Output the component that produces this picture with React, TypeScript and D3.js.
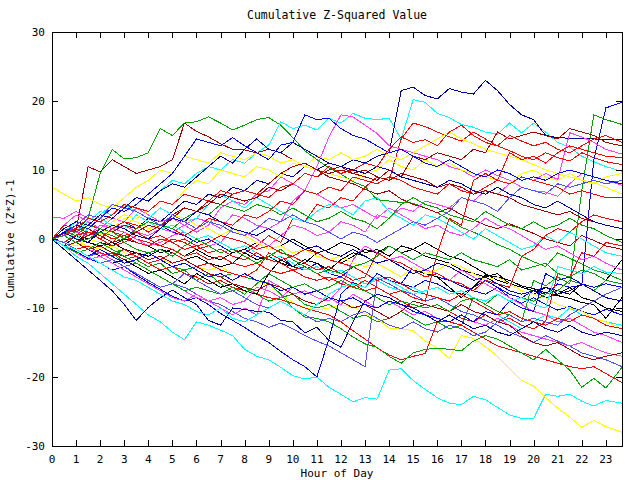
import React from "react";
import * as d3 from "d3";

const title = "Cumulative Z-Squared Value";
const xLabel = "Hour of Day";
const yLabel = "Cumulative (Z*Z)-1";
const xTicks = d3.range(0, 24);
const yTicks = [-30, -20, -10, 0, 10, 20, 30];
const hours = d3.range(48).map((i) => (i === 47 ? 23.67 : i * 0.5));

const RED = "#ff0000", DRED = "#a00000", GREEN = "#00a000", BLUE = "#0000ff", LBLUE = "#5050ff", NAVY = "#0000a0", MAG = "#ff40ff", CYAN = "#00ffff", YEL = "#ffff00", BLK = "#000000";

const s01 = [0,-1,-2.5,-3.5,-5,-6.5,-8,-9.5, -11,-12,-13.5,-14.6,-12,-12.5,-13.2,-14, -16,-17,-17.5,-18.6,-19.8,-20.3,-20,-21.5, -22.5,-23.6,-23,-23.2,-19,-18.8,-20.5,-21.8, -23,-23.8,-24,-22.8,-23.3,-24.4,-25.5,-26, -26,-22.5,-22.8,-22.5,-23.5,-24.2,-23.4,-23.8];
const s02 = [0,0.5,-0.5,-1,-1.5,-1,-2,-2.5, -2,-3,-3.5,-3,-4,-4.5,-4,-5, -5.5,-6,-6.8,-8,-9.2,-10,-10.3,-10, -9.6,-9.8,-10.8,-11.6,-12.9,-13,-13.3,-14.8, -15.8,-17.3,-14,-14.4,-15.6,-17,-18.8,-20.5, -21.3,-23,-24.5,-25.8,-27.3,-26.3,-27.2,-28];
const s03 = [0,0.5,1,3,9.5,13,11.6,11.8, 12.5,16,15,16.8,17,17.7,16.8,15.8, 16.5,17.3,17.6,16.5,14.7,12.8,11.5,10.3, 9.4,8.3,7.6,5.7,5.5,5.3,5.2,4.5, 3.8,2.8,1.7,1,0.2,-0.8,-1.5,-2.5, -3.3,-4,-2,-2.8,-3.6,-4.5,-5,-6];
const s04 = [0,1,2.5,2,3.5,5,4.5,6, 5.5,7,8.5,8,9.5,10.5,10,11.5, 11,12.5,13.6,17,16,16.5,15.8,17.5, 16.8,18.2,17.5,17.3,17.5,14.5,20.2,19.8, 18.2,17.6,16.6,16.2,15.5,15.2,16.8,15.4, 16.8,15.5,14,13.3,12,11.2,10.5,9.8];
const s05 = [0,-1,0.5,-0.5,1.5,1,2,1.5, 3,2.5,4,5.5,5,6.5,6,7.5, 7,8.5,8,9.5,9,10.5,10,11, 10.5,11.5,11,12,12.5,21.5,22,20.8, 20.3,21.8,21.3,21,23,21.5,19.5,18, 17.3,15,14.7,14.6,14.5,14.5,14.4,14.4];
const s06 = [0,0.8,1.3,10.5,9.7,11.5,10.5,9.5, 10,10.5,11.5,16.8,15.6,14.8,13.8,13, 12.9,12.5,13,12.5,11.5,10.5,10,9, 8.5,8,7.2,6.5,7,5.8,5,4.5, 3.8,4.5,3.5,2.8,2,1.5,2.2,1.5, 0.8,0,-0.5,-1,0.5,-0.2,-1,-1.5];
const s07 = [0,0.5,-0.5,1,0.5,-0.5,1,0, -0.5,-1,0,-0.5,-1.5,-1,-2,-1.5, -2,-1,0.5,-0.5,3,2.5,5,4.5, 6,5.5,7.5,9,8.5,14.5,16.8,16.3, 15.5,14.8,14.2,15.5,14.5,13.5,12.8,12, 11.5,12.5,11.8,11.3,12.5,11.8,11.2,10.8];
const s08 = [0,-1,-0.5,-1.5,-2.5,-2,-3.5,-3, -4,-3.5,-5,-4.5,-6,-5,-6.5,-7.5, -7,-8,-9,-8.5,-8,-9.5,-10,-9.5, -10.5,-11.5,-11,-12,-11.5,-10.5,-11.5,-12.5, -12,-13,-12.5,-8.5,-9.5,-10.5,-11,-12, -6,-6.8,-5.5,-6.5,7,18,17.3,16.6];
const s09 = [0,1,0.5,2,1.5,3,2.5,1.5, 2.5,2,1,0.5,-0.5,0,-1,-2, -1.5,-2.5,-3,-2.5,-4,-4.5,-3.5,-5, -5.5,-4,-5,-6,-5.5,-6.5,-7,-6, -6.5,-7.5,-8,-7,-6,-7,-8,-8.5, -7.5,-8,-6.5,-7,-6.7,11.5,19,19.8];
const s10 = [0,-1,-1.8,-2.8,-3.5,-4.5,-4,-5.2, -6.3,-7.3,-8.3,-9,-8.5,-9.5,-10.8,-11.8, -12.8,-14,-15,-16.3,-17.5,-18.5,-20,-14.5, -8,-6.3,-7,-5,-6,-6.5,-4,-5, -5.5,-6,-6.8,-7.5,-8,-7,-8.5,-9.3, -8.5,-9.5,-10.3,-9.8,-10.5,-11,-10.2,-11];
const s11 = [0,-0.5,-1.5,-2.5,-2,-3,-4,-3.5, -4.5,-5.5,-6.5,-7,-8,-9,-9.5,-10.5, -11.5,-12,-12.8,-12.2,-13,-14,-14.8,-15.5, -16.5,-17.5,-18.5,-5.7,-6.5,-7.5,-8,-9, -8.5,-9.5,-10.5,-11,-11.8,-12.5,-13.5,-14.2, -15,-14,-14.8,-15.5,-16.5,-17,-17.5,-18.5];
const s12 = [0,0.5,-0.5,-1.5,-1,-2,-3,-2.5, -3.5,-4.5,-4,-5,-5.5,-6.5,-6,-7, -7.5,-8,-8.5,-8.8,-9.3,-10,-10.5,-11, -12,-13.3,-14.5,-15.8,-16.8,-17.5,-17,-16.6, -12,-12,-12.5,-13.5,-14.5,-15.5,-16,-16.5, -17,-17.5,-18,-18.5,-18.8,-18.5,-19.5,-20.8];
const s13 = [0,-1,-0.5,-1.5,-2.5,-2,-1.5,-2.5, -3.5,-3,-4,-4.5,-4,-5,-5.5,-5, -5.5,-6,-6.4,-8,-10,-11.3,-11.5,-12, -13,-14.2,-15.2,-15.7,-17,-18,-16.5,-16, -15.8,-16,-16.2,-14.8,-14,-14.5,-15.5,-16.5, -17.5,-16,-17.5,-19,-21.5,-20.2,-21.6,-18.6];
const s14 = [0,-0.5,0.5,-0.5,-1,-0.5,-1.5,-2, -2.5,-1.5,-2,-3,-2.5,-3.5,-4,-3.5, -2,-3,-2.5,-3.5,-4,-3,-3.5,-4.5, -3,-2,-2.5,-3.5,-3,-3.5,-4.5,-5, -5.5,-7,-8.5,-7,-5.2,-5.5,-6,-6.8, -7.2,-7.8,-8.2,-8.6,-9.2,-9.5,-11.5,-8.5];
const s15 = [0,1,0.5,0,-0.5,-1,0,-0.5, -1,-2,-1.5,-2.5,-1.5,-2.5,-3,-2, -1.5,-0.5,-1.5,-1,0,-1,-2,-1.5, -0.5,-1,-2,-1.5,-2.5,-1,-1.5,-2.5, -3,-3.5,-4.5,-5,-5.5,-5,-6.5,-7, -7.5,-8.5,-8,-7,-8.5,-9,-10,-10.5];
const s16 = [0,-1,-2,-1.5,-2.5,-3.5,-3,-4, -5,-4.5,-5.5,-6.5,-5,-6,-7,-6.5, -7.5,-8,-5,-3,-4,-3.5,-2,-3, -3.5,-2.5,-1.5,-2,-1,-2,-1.5,-0.5, -1.5,-2.5,-3,-4,-5,-6,-6.5,-7.5, -8,-7,-7.5,-8,-6.5,-7.5,-6,-3];
const s17 = [0,0.5,-0.5,-1.5,-2,-3,-4,-5, -6,-7,-6.5,-7.5,-8.5,-9,-8.5,-9.5, -9,-7,-7.5,-8.5,-7,-8,-7.5,-8.5, -9.5,-8,-9,-10,-9,-10,-11,-10.5, -11.5,-12,-11,-12,-12.5,-11.5,-12.5,-13.5, -14,-14.5,-15,-15.5,-15,-15.8,-16.5,-17];
const s18 = [3.2,3,4,3,2.5,1.5,2,1, 0.5,1.5,1,2,3,2.5,1.5,3.5, 3,2,1.5,2.5,5.5,7,10.5,14.8, 18,17.7,16.5,15.3,13.5,13,12.5,12, 11.5,10.5,10,9,10,9.2,8.5,7.5, 7,6.8,6.2,8,9.5,9,8.5,7.8];
const s19 = [0,1.5,1,0.5,2,1.5,1,0, -1,-0.5,0.5,1,0,-1,-0.5,1.5, 1,0,-1,0.5,2,1.5,0.5,1, 2.5,2,1,3.5,3,4.5,4,5.5, 5,4.5,6,5.5,7,6.5,8,9, 8.5,9.5,8.6,15.4,14.8,14,13,12.3];
const s20 = [0,-1,-2,-3,-2.5,-3.5,-4.5,-5.5, -6.5,-7.5,-8.5,-9,-8,-9,-10,-11, -10,-11,-6,-7,-8,-7.5,-8.5,-9, -7,-3,-1,-2,-3,-2.5,-3.5,-4.5, -5,-6,-4.5,-5.5,-6.5,-7.5,-8.5,-9.5, -10.5,-11,-12,-11.5,-12.5,-13.5,-14,-15];
const s21 = [0,2,3.5,2.5,1.5,3,2.5,4.5, 3.5,2.5,3,2,1,2,4.5,5.5, 5,6.5,7,9,8,7,6.5,5.5, 4.5,5,4,3,4.5,3.5,2.5,1.5, 2,1,0.5,1.5,3,2,1.5,0.5, -0.5,-1.5,-1,-2,-3,-2.5,-3.5,-4.5];
const s22 = [0,1,0,1.5,3,2,1.5,3.5, 2.5,1.5,2,1,0,0.5,-0.5,-1.5, -1,-2,-3,-2.5,-3.5,-4.5,-4,-5, -4.5,-5.5,-6.5,-6,-7,-7.5,-7,-8, -8.5,-9,-8,-9,-10,-11,-12,-13, -12,-11,-11.5,-10,-11,-11.5,-12,-12.5];
const s23 = [0,-0.5,1,2.5,4,3.5,5,4, 3,4.5,3.5,2.5,3,5,6.5,5.5, 4.5,6,5,4,3,2.5,4,5, 4.5,3.5,5.5,6,4,3,2,3.5, 3,2,1,0,1.5,0.5,-0.5,-1.5, -1,0.5,-0.5,1,0,-1,-2,-2.5];
const s24 = [7.5,6.5,5.5,6,5,4.5,6,7.5, 8.5,10,9.5,12,11.5,11,12.5,12, 11.5,12.5,12,11,11.5,10.5,10,9.5, 9,8.5,9.5,10,11.5,10.5,10,11.5, 10.5,11,10,9.5,9,8.5,8,9.5, 10,9,8.5,9.5,8.5,8,9,9.5];
const s25 = [0,1,2,1.5,0.5,2.5,3.5,3, 4,5.5,5,7,8.5,8,10,9.5, 9,10.5,10,9,11,10.5,12,11.5, 12.5,11.5,12,13,12,11.5,12.5,13.5, 14.5,15.5,14.5,13.8,13,12.5,12,11.5, 10.8,10,9.5,9,8.5,8.2,7.5,6.5];
const s26 = [0,-0.5,-1,0,-0.5,1.5,3,2.5, 1.5,2,3.5,3,2,1.5,0.5,1.5, 0.5,-0.5,-1.5,-1,-2,-1.5,-2.5,-3, -2.5,-3.5,-4,-3.5,-4.5,-5.5,-4,-5, -4.5,-3.5,-4,-5,-6,-5.5,-6.5,-7.5, -8,-8.5,-9.5,-10,-10.5,-11.5,-12,-13];
const s27 = [0,1.5,1,2,1.5,1,0.5,1, 0,0.5,-0.5,0,-1,-0.5,0.5,0, -0.5,-1.5,-1,-2,-2.5,-1.5,-2,-3, -3.5,-4,-5,-6,-5.5,-6.5,-7.5,-8, -8.5,-9,-8,-9,-10,-11,-10.5,-11.5, -12,-12.5,-11.5,-12,-11,-11.5,-12.5,-13];
const s28 = [0,1,1.5,0.5,1,0,0.5,-0.5, -1,0,-0.5,-1.5,-1,-2,-1.5,-2.5, -3,-2,-3,-3.5,-4.5,-4,-5,-6, -5.5,-6.5,-7.5,-7,-8,-9,-10,-9.5, -10,-10.5,-11.5,-12,-11,-12,-11.5,-12.5, -13,-12,-5,-5.5,-2,-2.5,-0.5,-1];
const s29 = [0,0.5,1.5,1,0,1.5,2.5,2, 1,2,1.5,0.5,1.5,3,2.5,2, 3.5,3,4,5.5,5,7,6.5,7.5, 7,9,8.5,8,9,8.5,7.5,7, 6.5,8,7,6.5,7.5,8.5,8,9, 8.5,8,7.5,6.5,7,6.5,6,6];
const s30 = [0,-0.5,0.5,1,0,-1,-0.5,0.5, 0,-1,-1.5,-2.5,-2,-3,-2.5,-3.5, -4,-3.5,-4.5,-5,-4.5,-5.5,-6,-5.5, -6.5,-7,-6,-7,-8,-7.5,-8.5,-9, -2,3,2,8.5,9.5,8.5,12.5,11.5, 12,11,12.5,13.5,13,12.5,12,11.8];
const s31 = [0,-0.5,-1.5,-1,-2,-2.5,-1.5,-2.5, -3.5,-3,-2,-3,-4,-3.5,-4.5,-5, -5.5,-4.5,-2,-3,-2.5,-3.5,-4.5,-4, -5,-6,-5.5,-2,-3,-3.5,-4.5,-5.5, -5,-6,-6.5,-7.5,-6,-6.5,-7,-2.5, -1.5,0.5,1.5,1,2.5,3.5,3,2.5];
const s32 = [0,1,2,1.5,0.5,-0.5,0,1, 2,1.5,3.5,4.5,4,5,6.5,6, 5.5,6,7.5,7,8,9.5,9,10, 10.5,9.5,10,9,8.5,9.5,9,8.5, 7.5,8,7.5,6.5,7,6.5,6,5, 4.5,4,3.5,4,3,2.5,2,1.5];
const s33 = [0,-1,-0.5,-1.5,-1,-2,-2.5,-2, -3,-2.5,-3.5,-3,-4,-5,-5.5,-6.5, -7,-7.5,-6.5,-7,-8,-9,-9.5,-8.5, -9,-10,-9.5,-10.5,-11.5,-10.5,-9,-9.5, -10,-10.5,-9.5,-10.5,-11,-12,-12.5,-14, -15,-15.5,-15,-16,-17,-17.5,-17,-16.5];
const s34 = [0,0.5,-0.5,0.5,1.5,1,2,1.5, 2.5,2,3,4.5,4,5.5,5,6.5, 7,6.5,8,9.5,10.5,11,10,9.5, 10,9.5,9,8.5,10,9,12,11.5, 12.5,12,11.5,13,12.5,15.5,14.5,15, 15.5,15,14.5,16,15.5,15,14,13.5];
const s35 = [0,-1,-2,-1.5,-0.5,-1.5,-2.5,-3.5, -4.5,-5.5,-6.5,-7.5,-7,-7.5,-8,-7, -8,-6.5,-5,-6,-7,-6.5,-7.5,-7, -6,-7,-7.5,-8.5,-9.5,-9,-9.5,-10, -9.5,-10.5,-9,-8.5,-9.5,-8,-9,-8.5, -9,-8,-7.5,-6,-6.5,-7.5,-6,-6.5];
const s36 = [0,1,0.5,2,1.5,1,0,1.5, 2.5,2,1.5,3,4,3.5,5,4.5, 4,5,4.5,3.5,4.5,3.5,2.5,3, 4,3,2.5,1.5,3,5,6,5, 4.5,3.5,3,2.5,4,3,2,1.5, 2.5,1.5,2,3,2,1.5,0.5,-0.5];
const s37 = [0,-1.5,-3,-4.5,-6,-7.5,-9.5,-11.8, -9.9,-8.5,-7.4,-8.5,-9.5,-11.8,-12.5,-10, -10.2,-10.5,-10.6,-11.8,-12,-13.6,-12.8,-14.7, -15.7,-12,-9,-8,-8.5,-9.5,-10,-11, -12,-11,-12,-13,-12.5,-13.5,-14,-13, -12,-13,-13.5,-12.5,-13.5,-14,-13.5,-14];
const s38 = [0,1,0,-0.5,1,2,1.5,0.5, 0,1.5,3,2.5,4,3.5,2.5,1.5, 1,0.5,1.5,0.5,-0.5,-1.5,-1,-2, -2.5,-1.5,-2.5,-3.5,-3,-4,-5,-4.5, -3.5,-4,-5,-6,-5.5,-6.5,-7.5,-8, -7.5,-7,-8,-7.5,-6.5,-7.5,-8.5,-9];
const s39 = [0,1.5,2.5,2,3.5,3,4.5,6, 5.5,7,8,7.5,9,10.5,12,11, 13,14.5,13,12.5,14,13,12,11, 10.5,10,9.5,10.5,10,9,8.5,8, 7.5,8.5,8,7,6.5,7.5,6.5,6, 5,4.5,5.5,4.5,3.5,2.5,2,1.5];
const s40 = [0,1,2,1.5,3,4.5,4,5, 6.5,8,9.5,12,14.5,14,13.5,14.7, 13.5,12.5,11.5,13.6,14,18,17.3,17.5, 16,15,14.5,13.5,12.5,13,12,11, 10.5,11.5,10.5,9.5,9,10,9.5,8.5, 9,8.5,9.5,10,9.5,9,8.5,8];
const s41 = [0,-0.5,-1.5,-2.5,-1.5,-2.5,-3.5,-3, -2,-3,-4,-3.5,-4.5,-5.5,-5,-6, -5,-6,-6.5,-7.5,-7,-8,-7.5,-8.5, -9,-8.5,-9.5,-10,-9,-9.5,-10.5,-11, -11.5,-12,-11,-12,-10.5,-11,-9,-10, -10.5,-5,-6,-5.5,-6.5,-7,-6.5,-7];
const s42 = [0,0.5,2,3.5,3,5,4.5,4, 3,2,3.5,2.5,1.5,2.5,2,1, 0.5,1.5,3,2.5,3.5,2.5,2,1, 0,1,0.5,-0.5,0.5,1.5,2.5,2, 3,4,6,5.5,5,4,6,7.5, 7,6.5,8,7.5,8,8.5,8,8.5];
const s43 = [0,-0.5,-1.5,-2.5,-3.5,-3,-4,-5, -6,-7,-6.5,-5,-6,-7,-8,-7.5, -8.5,-9.5,-10,-9,-10,-11,-12,-11.5, -12,-11,-10.5,-11.5,-12.5,-13,-12,-13, -13.5,-12.5,-13,-14,-13.5,-12,-11,-12, -11.5,-12,-12.5,-11,-10,-9,-8,-7];
const s44 = [0,-1,-1.5,-2.5,-3.5,-4.5,-5.5,-6, -7,-8,-9,-9.5,-10.5,-11,-10,-11.5, -12,-11,-10,-9,-10,-11,-9.5,-8, -7,-6.5,-7,-5.5,-6,-7,-8,-7.5, -7,-8,-7.5,-8.5,-9,-8,-9,-8.5, -9.5,-10,-4,-4.5,-5,-4,-4.8,-5];
const s45 = [0,0.5,-0.5,0,1,0.5,-0.5,-1.5, -2,-1.5,-2.5,-1,0,-1,-2,-1.5, -2.5,-3.5,-2.5,-1.5,-3,-4,-5,-4.5, -5,-4,-3.5,-2.5,-1,-2,-3,-2, -2.5,-3,-2,-3,-3.5,-4,-3,-4.5, -4,-3.5,-5,-5.5,-4.5,-5,-6,-6.5];
const s46 = [0,2,1.5,3,2.5,3.5,5,4.5, 4,5.5,5,6.5,6,5.5,7,6.5, 7,6.5,6,7.5,8,9.5,9,10.5, 9.5,10,11,10.5,13,14.8,14,14.4, 13.5,15.5,16.5,15,14,13.5,15,14.2, 13.5,14,13,12.5,13.5,14.5,15,14];

const seriesList = [s01,s02,s03,s04,s05,s06,s07,s08,s09,s10,s11,s12,s13,s14,s15,s16,s17,s18,s19,s20,s21,s22,s23,s24,s25,s26,s27,s28,s29,s30,s31,s32,s33,s34,s35,s36,s37,s38,s39,s40,s41,s42,s43,s44,s45,s46];
const seriesColors = [CYAN,YEL,GREEN,CYAN,NAVY,DRED,RED,GREEN,BLUE,BLUE,LBLUE,RED,GREEN,BLK,BLK,BLK,MAG,MAG,MAG,MAG,MAG,CYAN,CYAN,YEL,YEL,YEL,RED,RED,RED,RED,RED,DRED,DRED,DRED,GREEN,GREEN,NAVY,NAVY,NAVY,BLUE,BLUE,LBLUE,LBLUE,CYAN,GREEN,RED];

const W = 640, H = 480;
const x = d3.scaleLinear().domain([0, 23.67]).range([52, 622]);
const y = d3.scaleLinear().domain([-30, 30]).range([446, 32]);
const line = d3.line<number>().x((_, i) => x(hours[i])).y((d) => y(d));
const font = "'DejaVu Sans Mono', monospace";

export default function App() {
  const [x0, x1] = x.range();
  const [y0, y1] = y.range();
  return (
    <svg width={W} height={H} style={{ position: "absolute", left: 0, top: 0, background: "#fff" }} fontFamily={font} fontSize={11}>
      <rect x={0} y={0} width={W} height={H} fill="#fff" />
      <defs>
        <clipPath id="plot"><rect x={x0} y={y1} width={x1 - x0} height={y0 - y1} /></clipPath>
      </defs>
      <text x={(x0 + x1) / 2} y={19} textAnchor="middle" fontSize={11.5}>{title}</text>
      <g clipPath="url(#plot)">
        {seriesList.map((s, i) => (
          <path key={i} d={line(s) || ""} fill="none" stroke={seriesColors[i]} strokeWidth={1} shapeRendering="crispEdges" />
        ))}
      </g>
      <rect x={x0 + 0.5} y={y1 + 0.5} width={x1 - x0} height={y0 - y1} fill="none" stroke="#000" strokeWidth={1} shapeRendering="crispEdges" />
      {xTicks.map((t) => (
        <g key={"x" + t}>
          <line x1={Math.round(x(t)) + 0.5} x2={Math.round(x(t)) + 0.5} y1={y0} y2={y0 - 6} stroke="#000" shapeRendering="crispEdges" />
          <line x1={Math.round(x(t)) + 0.5} x2={Math.round(x(t)) + 0.5} y1={y1} y2={y1 + 6} stroke="#000" shapeRendering="crispEdges" />
          <text x={x(t)} y={y0 + 17} textAnchor="middle">{t}</text>
        </g>
      ))}
      {yTicks.map((t) => (
        <g key={"y" + t}>
          <line x1={x0} x2={x0 + 6} y1={Math.round(y(t)) + 0.5} y2={Math.round(y(t)) + 0.5} stroke="#000" shapeRendering="crispEdges" />
          <line x1={x1} x2={x1 - 6} y1={Math.round(y(t)) + 0.5} y2={Math.round(y(t)) + 0.5} stroke="#000" shapeRendering="crispEdges" />
          <text x={x0 - 7} y={y(t) + 4} textAnchor="end">{t}</text>
        </g>
      ))}
      <text x={(x0 + x1) / 2} y={477} textAnchor="middle">{xLabel}</text>
      <text transform={`translate(14,${(y0 + y1) / 2}) rotate(-90)`} textAnchor="middle">{yLabel}</text>
    </svg>
  );
}
